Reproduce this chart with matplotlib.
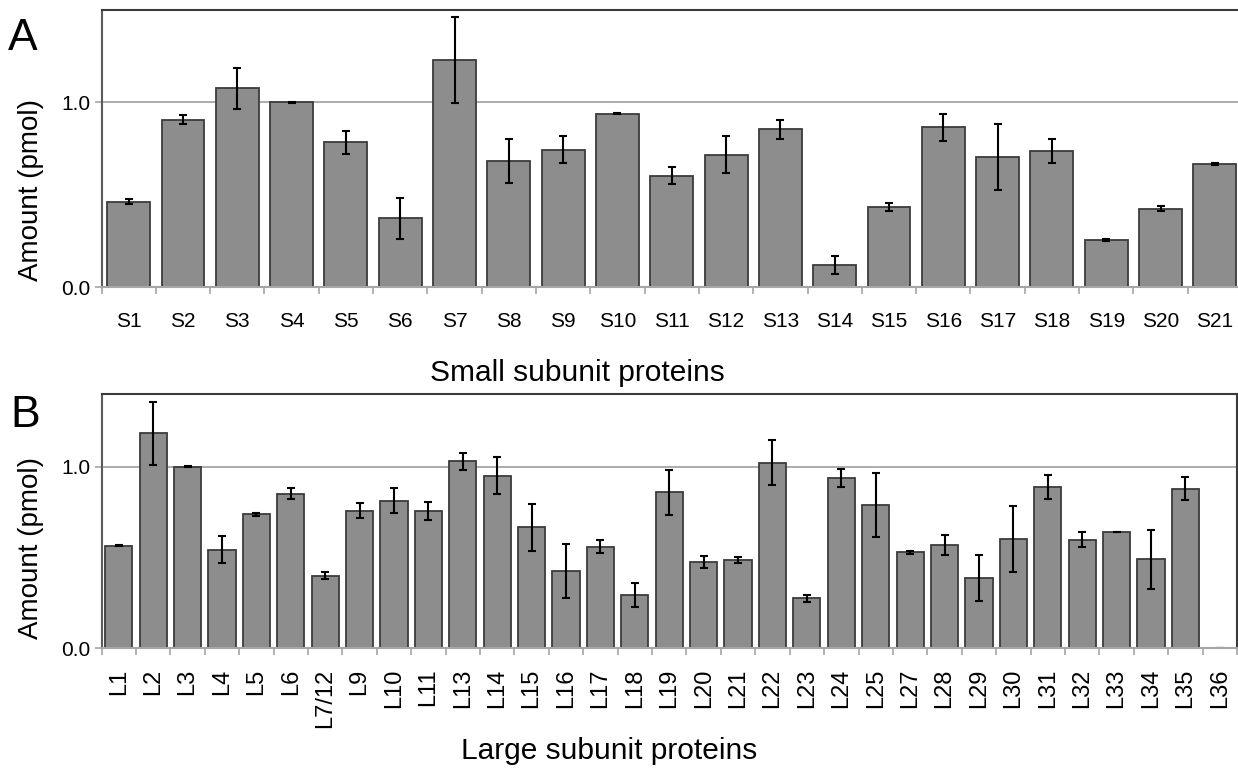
import matplotlib
matplotlib.use("Agg")
import matplotlib.pyplot as plt
import numpy as np

plt.rcParams['font.family'] = ['Liberation Sans', 'DejaVu Sans']

# ---------------- data ----------------
small_labels = ['S1', 'S2', 'S3', 'S4', 'S5', 'S6', 'S7', 'S8', 'S9', 'S10', 'S11',
                'S12', 'S13', 'S14', 'S15', 'S16', 'S17', 'S18', 'S19', 'S20', 'S21']
small_values = [0.461, 0.906, 1.077, 1.000, 0.784, 0.371, 1.227, 0.683, 0.744, 0.939, 0.602,
                0.715, 0.854, 0.119, 0.432, 0.865, 0.704, 0.737, 0.254, 0.425, 0.665]
small_errors = [0.013, 0.023, 0.111, 0.002, 0.063, 0.112, 0.233, 0.120, 0.073, 0.003, 0.046,
                0.100, 0.051, 0.051, 0.022, 0.073, 0.178, 0.066, 0.004, 0.016, 0.005]

large_labels = ['L1', 'L2', 'L3', 'L4', 'L5', 'L6', 'L7/12', 'L9', 'L10', 'L11', 'L13',
                'L14', 'L15', 'L16', 'L17', 'L18', 'L19', 'L20', 'L21', 'L22', 'L23',
                'L24', 'L25', 'L27', 'L28', 'L29', 'L30', 'L31', 'L32', 'L33', 'L34',
                'L35', 'L36']
large_values = [0.564, 1.184, 1.000, 0.542, 0.737, 0.851, 0.399, 0.756, 0.812, 0.754, 1.028,
                0.949, 0.665, 0.426, 0.557, 0.294, 0.858, 0.474, 0.487, 1.022, 0.274,
                0.939, 0.787, 0.527, 0.570, 0.388, 0.601, 0.886, 0.597, 0.641, 0.489,
                0.879, 0.002]
large_errors = [0.004, 0.173, 0.001, 0.075, 0.008, 0.032, 0.020, 0.042, 0.070, 0.049, 0.047,
                0.102, 0.130, 0.149, 0.036, 0.066, 0.125, 0.033, 0.017, 0.126, 0.020,
                0.050, 0.175, 0.008, 0.055, 0.127, 0.184, 0.066, 0.042, 0.000, 0.163,
                0.066, 0.000]

y_ticks = [0.0, 1.0]
y_ticklabels = ['0.0', '1.0']

# ---------------- figure ----------------
W, H = 1238, 768
fig = plt.figure(figsize=(W / 100, H / 100), dpi=100)

def px_rect(left, top, right, bottom):
    return [left / W, 1 - bottom / H, (right - left) / W, (bottom - top) / H]

BAR_COLOR = '#8d8d8d'
EDGE_COLOR = '#3c3c3c'
AXIS_GRAY = '#a6a6a6'
FRAME = '#3a3a3a'


def panel(ax, labels, values, errors, ymax, rot, tick_fs):
    n = len(labels)
    x = np.arange(n)
    ax.axhline(1.0, color=AXIS_GRAY, lw=1.3, zorder=1)
    ax.bar(x, values, width=0.79, color=BAR_COLOR, edgecolor=EDGE_COLOR,
           linewidth=1.3, zorder=2)
    ax.errorbar(x, values, yerr=errors, fmt='none', ecolor='black',
                elinewidth=1.5, capsize=3.2, capthick=1.5, zorder=3)
    ax.set_xlim(-0.5, n - 0.5)
    ax.set_ylim(0, ymax)
    ax.set_yticks(y_ticks)
    ax.set_yticklabels(y_ticklabels, fontsize=15)
    ax.tick_params(axis='y', length=5, width=1.2, color=AXIS_GRAY, pad=3)
    ax.set_xticks(x)
    if rot:
        ax.set_xticklabels(labels, fontsize=tick_fs, rotation=90, va='top', ha='center')
    else:
        ax.set_xticklabels(labels, fontsize=tick_fs)
    ax.tick_params(axis='x', which='major', length=0, pad=15 if rot else 18)
    ax.set_xticks(np.arange(n + 1) - 0.5, minor=True)
    ax.tick_params(axis='x', which='minor', length=5, width=1.2, color=AXIS_GRAY,
                   direction='out')
    for side in ('top', 'right'):
        ax.spines[side].set_color(FRAME)
        ax.spines[side].set_linewidth(1.5)
    ax.spines['left'].set_color('#5a5a5a')
    ax.spines['left'].set_linewidth(1.5)
    ax.spines['bottom'].set_color(AXIS_GRAY)
    ax.spines['bottom'].set_linewidth(1.5)
    ax.spines['bottom'].set_zorder(4)


axA = fig.add_axes(px_rect(101.5, 10, 1242, 287))
panel(axA, small_labels, small_values, small_errors, 1.5, False, 15)

axB = fig.add_axes(px_rect(101.5, 394, 1237, 648))
panel(axB, large_labels, large_values, large_errors, 1.4, True, 17)

# axis labels and panel letters (figure pixel positions)
def ftext(xp, yp, s, **kw):
    fig.text(xp / W, 1 - yp / H, s, **kw)

ftext(31, 190, 'Amount (pmol)', rotation=90, fontsize=20, ha='center', va='center')
ftext(31, 548, 'Amount (pmol)', rotation=90, fontsize=20, ha='center', va='center')
ftext(577, 373, 'Small subunit proteins', fontsize=21.5, ha='center', va='center')
ftext(609, 751, 'Large subunit proteins', fontsize=21.5, ha='center', va='center')
ftext(8, 50, 'A', fontsize=32, ha='left', va='baseline')
ftext(10, 427, 'B', fontsize=32, ha='left', va='baseline')

fig.savefig('out.png', dpi=100)
